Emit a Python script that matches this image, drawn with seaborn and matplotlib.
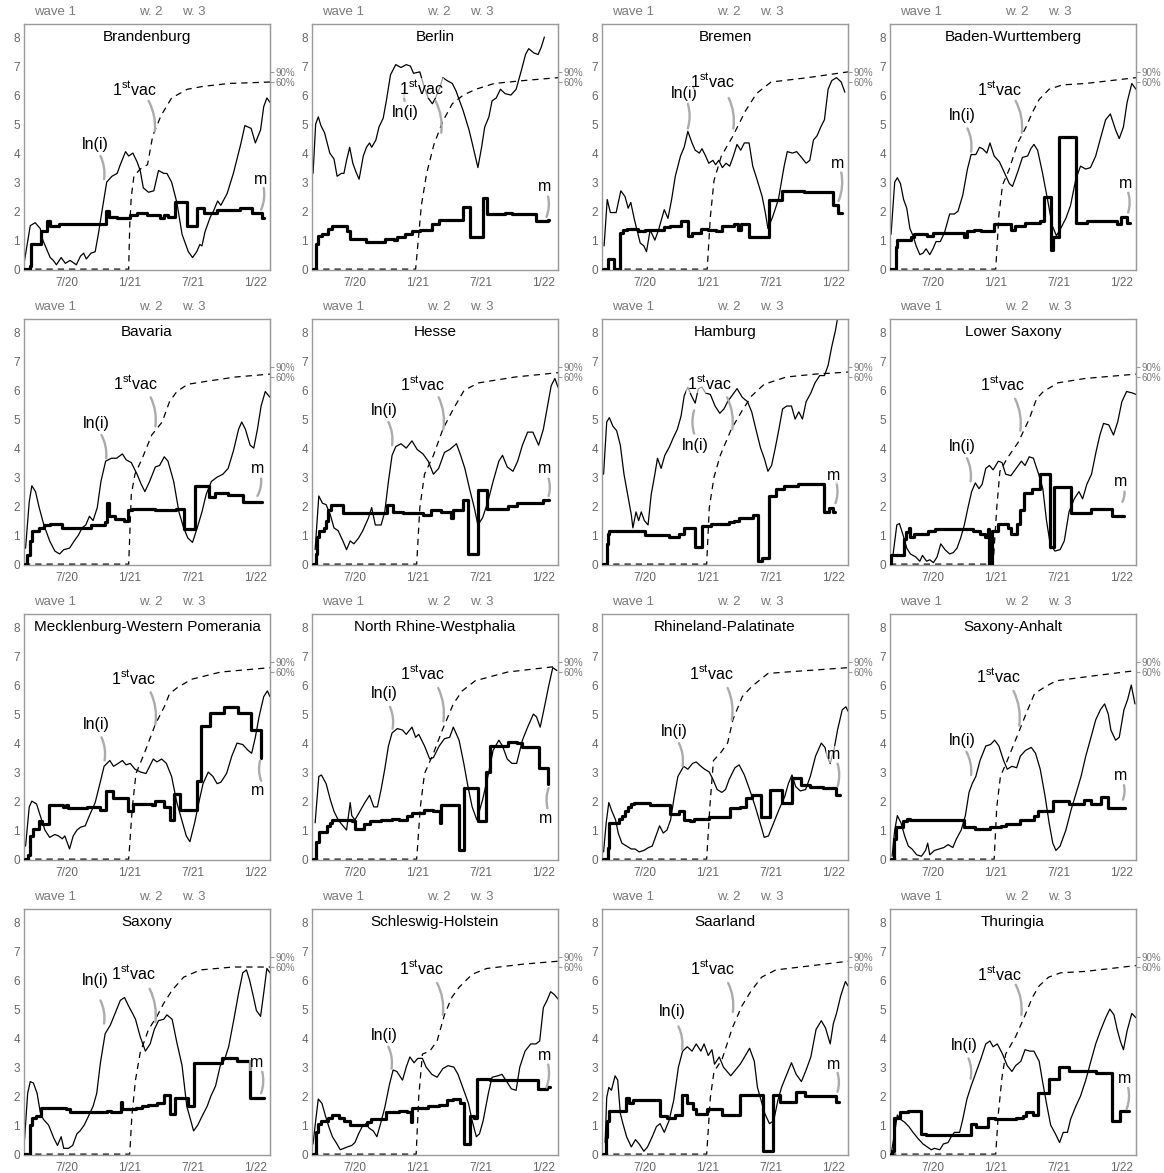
import matplotlib
matplotlib.use("Agg")
import numpy as np
import pandas as pd
import seaborn as sns
import matplotlib.pyplot as plt

sns.set_style("white")
plt.rcParams["font.family"] = ["Liberation Sans", "DejaVu Sans"]
plt.rcParams["mathtext.fontset"] = "custom"
plt.rcParams["mathtext.rm"] = "Liberation Sans"

# ---------------- data (x = months since 1 Mar 2020) ----------------
STATES = ["Brandenburg", "Berlin", "Bremen", "Baden-Wurttemberg",
          "Bavaria", "Hesse", "Hamburg", "Lower Saxony",
          "Mecklenburg-Western Pomerania", "North Rhine-Westphalia", "Rhineland-Palatinate", "Saxony-Anhalt",
          "Saxony", "Schleswig-Holstein", "Saarland", "Thuringia"]

X_TICKS = [4, 10, 16, 22]
X_TICK_LABELS = ["7/20", "1/21", "7/21", "1/22"]
WAVE_POS = [2.9, 12.0, 16.1]
WAVE_LABELS = ["wave 1", "w. 2", "w. 3"]
COVER_TICKS = [6.45, 6.8]
COVER_LABELS = ["60%", "90%"]

# ln(i): thin line
brandenburg_lni = [(-0.08,0.23),(0.5,1.5),(0.97,1.6),(1.45,1.4),(1.7,1.0),(2.4,0.4),(2.7,0.3),(3.0,0.15),(3.45,0.4),(3.85,0.2),(4.3,0.3),(4.9,0.15),(5.3,0.45),(5.6,0.55),(5.85,0.35),(6.3,0.55),(6.7,0.6),(7.0,1.2),(7.35,2.0),(7.8,3.0),(8.3,3.2),(8.8,3.3),(9.1,3.6),(9.6,4.05),(9.9,3.9),(10.3,4.0),(10.7,3.7),(11.0,3.4),(11.3,2.8),(11.8,2.65),(12.3,2.7),(12.75,3.4),(13.25,3.3),(13.55,3.3),(14.0,3.0),(14.5,2.3),(15.0,1.2),(15.6,0.6),(16.0,0.4),(16.4,0.6),(16.7,0.85),(16.9,0.8),(17.2,1.3),(17.7,1.8),(18.0,2.0),(18.4,2.35),(18.7,2.2),(19.3,2.6),(19.9,3.3),(20.6,4.3),(21.0,4.95),(21.6,4.85),(22.0,4.35),(22.5,4.8),(22.8,5.6),(23.1,5.9),(23.4,5.75)]
berlin_lni = [(0.0,3.3),(0.25,5.0),(0.5,5.25),(0.75,4.95),(1.1,4.7),(1.6,4.0),(2.0,3.8),(2.3,3.2),(2.7,3.3),(2.95,3.3),(3.2,3.75),(3.5,4.2),(3.8,3.65),(4.1,3.35),(4.4,3.1),(4.8,3.9),(5.1,4.2),(5.4,4.35),(5.6,4.2),(6.0,4.45),(6.3,4.9),(6.7,5.2),(7.0,5.8),(7.4,6.7),(7.9,7.05),(8.4,6.95),(8.9,7.05),(9.3,7.0),(9.6,6.75),(10.2,6.8),(10.6,6.3),(11.0,5.9),(11.4,5.7),(11.7,5.9),(12.1,6.25),(12.4,6.6),(12.8,6.5),(13.3,6.4),(13.65,6.15),(14.35,5.45),(14.9,4.8),(15.2,4.35),(15.75,3.5),(16.1,4.2),(16.4,4.9),(16.8,5.25),(17.1,5.8),(17.5,5.9),(17.9,6.2),(18.35,6.05),(18.9,6.0),(19.4,6.2),(19.9,6.85),(20.3,7.4),(20.6,7.6),(21.1,7.45),(21.5,7.4),(21.8,7.65),(22.1,8.0)]
bremen_lni = [(0.1,0.8),(0.4,2.4),(0.7,1.95),(1.25,1.95),(1.7,2.7),(2.1,2.5),(2.4,2.1),(2.65,2.3),(3.0,1.7),(3.55,0.9),(3.9,0.8),(4.15,0.6),(4.5,1.35),(4.95,1.0),(5.3,1.35),(5.85,2.05),(6.2,1.75),(6.55,2.4),(6.9,3.2),(7.4,3.9),(7.75,4.2),(8.1,4.75),(8.5,4.35),(8.8,4.1),(9.2,4.0),(9.45,4.15),(9.8,3.9),(10.1,3.65),(10.5,3.75),(10.75,3.6),(11.05,3.75),(11.4,3.5),(11.75,3.65),(12.1,3.55),(12.45,3.9),(12.8,4.3),(13.15,4.1),(13.5,4.35),(13.95,4.35),(14.3,3.55),(14.7,3.1),(15.2,2.5),(15.5,1.95),(15.75,1.4),(16.2,1.8),(16.75,2.4),(17.3,3.55),(17.6,4.05),(18.1,4.0),(18.5,4.05),(18.85,3.9),(19.4,3.65),(19.75,3.75),(20.1,4.45),(20.45,4.6),(20.8,4.9),(21.15,5.15),(21.5,6.2),(21.85,6.5),(22.3,6.6),(22.75,6.45),(23.1,6.1)]
baden_lni = [(0.0,1.2),(0.35,3.0),(0.6,3.15),(0.9,2.95),(1.2,2.4),(1.5,2.1),(1.8,1.4),(2.1,1.15),(2.4,0.8),(2.75,0.5),(3.05,0.55),(3.35,0.7),(3.7,0.5),(4.0,0.7),(4.3,0.95),(4.7,0.95),(5.1,1.25),(5.6,1.9),(6.05,1.9),(6.4,2.0),(6.85,2.55),(7.3,3.45),(7.65,3.95),(8.1,3.95),(8.45,4.2),(8.75,4.15),(9.15,4.0),(9.45,4.35),(9.85,3.9),(10.35,3.7),(10.8,3.35),(11.3,2.95),(11.6,2.85),(12.1,3.35),(12.55,3.85),(13.05,3.9),(13.35,4.15),(13.65,4.3),(14.0,4.1),(14.45,3.35),(14.95,2.4),(15.4,1.5),(15.8,1.15),(16.2,1.4),(16.7,1.75),(17.15,2.2),(17.65,3.1),(18.1,3.55),(18.6,3.45),(19.05,3.5),(19.55,3.9),(20.0,4.5),(20.5,5.15),(20.95,5.35),(21.45,4.8),(21.8,4.5),(22.2,4.9),(22.55,5.75),(23.0,6.4),(23.4,6.2)]
bavaria_lni = [(0.05,0.55),(0.4,2.15),(0.65,2.7),(1.0,2.5),(1.35,1.95),(1.8,1.35),(2.35,0.8),(2.85,0.45),(3.3,0.35),(3.7,0.5),(4.25,0.55),(4.7,0.8),(5.1,1.0),(5.45,1.25),(5.8,1.35),(6.15,1.65),(6.5,1.5),(6.9,1.95),(7.25,2.85),(7.7,3.55),(8.25,3.65),(8.75,3.65),(9.3,3.8),(9.65,3.6),(10.15,3.5),(10.7,3.1),(11.1,2.75),(11.45,2.5),(11.9,2.85),(12.45,3.35),(12.85,3.4),(13.3,3.7),(13.65,3.55),(14.2,2.85),(14.7,1.8),(15.15,1.25),(15.55,0.9),(16.0,0.75),(16.45,1.25),(16.9,1.8),(17.3,2.4),(17.8,2.85),(18.35,3.0),(18.9,3.1),(19.4,3.3),(19.9,3.9),(20.4,4.65),(20.7,4.9),(21.05,4.65),(21.5,4.1),(21.85,4.0),(22.2,4.65),(22.55,5.45),(22.95,5.95),(23.4,5.75)]
hesse_lni = [(0.2,0.5),(0.55,2.35),(0.9,2.1),(1.25,2.05),(1.65,1.7),(2.0,1.25),(2.4,1.15),(2.85,0.8),(3.2,0.5),(3.55,0.8),(3.9,0.7),(4.35,0.9),(4.75,1.15),(5.3,1.6),(5.6,1.95),(5.95,1.35),(6.5,1.35),(6.85,1.8),(7.2,2.85),(7.55,3.75),(7.9,4.05),(8.4,4.15),(8.9,4.0),(9.45,4.25),(9.95,3.95),(10.5,3.8),(11.0,3.55),(11.5,3.1),(12.0,3.3),(12.55,3.85),(13.05,3.95),(13.7,4.15),(14.1,3.75),(14.5,3.3),(14.95,2.6),(15.4,1.95),(15.75,1.35),(16.2,1.6),(16.7,2.15),(17.2,2.85),(17.75,3.55),(18.1,3.75),(18.55,3.35),(19.1,3.2),(19.55,3.55),(20.0,4.1),(20.5,4.55),(21.0,4.55),(21.55,4.1),(22.0,4.65),(22.4,5.45),(22.75,6.15),(23.1,6.4),(23.4,6.1)]
hamburg_lni = [(0.05,3.1),(0.35,4.9),(0.6,5.05),(0.95,4.75),(1.3,4.6),(1.65,4.1),(2.0,3.1),(2.35,2.4),(2.7,1.7),(2.85,1.25),(3.15,1.8),(3.4,1.5),(3.65,1.8),(3.95,1.5),(4.3,1.35),(4.6,2.4),(4.95,3.1),(5.2,3.65),(5.55,3.3),(5.9,3.75),(6.35,4.05),(6.7,4.35),(7.1,4.65),(7.45,5.1),(7.75,5.8),(8.1,6.1),(8.45,5.8),(8.8,5.55),(9.1,6.05),(9.45,6.1),(9.8,5.9),(10.25,5.85),(10.7,5.45),(11.15,5.2),(11.55,5.35),(11.9,5.6),(12.3,5.8),(12.8,6.05),(13.3,5.75),(13.8,5.6),(14.2,5.25),(14.6,4.65),(15.05,4.0),(15.4,3.65),(15.75,3.2),(16.1,3.4),(16.45,4.0),(16.8,4.65),(17.15,5.35),(17.55,5.45),(18.0,5.45),(18.35,5.0),(18.7,5.25),(19.05,5.0),(19.4,5.6),(19.85,5.9),(20.25,6.25),(20.7,6.5),(21.15,6.5),(21.5,6.85),(21.85,7.5),(22.2,8.05),(22.6,8.9)]
lowersax_lni = [(0.2,0.35),(0.55,1.35),(0.8,1.4),(1.15,1.0),(1.5,0.55),(1.85,0.35),(2.35,0.25),(2.75,0.1),(3.0,0.3),(3.4,0.1),(3.7,0.15),(4.05,0.05),(4.4,0.25),(4.75,0.7),(5.15,0.5),(5.6,0.35),(5.95,0.4),(6.3,0.55),(6.65,0.9),(7.0,1.35),(7.35,1.95),(7.7,2.5),(8.05,2.8),(8.4,2.6),(8.7,2.75),(9.05,3.3),(9.4,3.4),(9.75,3.25),(10.25,3.55),(10.6,3.5),(10.95,3.1),(11.45,3.05),(11.95,3.3),(12.45,3.55),(12.8,3.4),(13.2,3.7),(13.6,3.65),(14.1,3.1),(14.5,2.6),(14.85,1.5),(15.2,0.7),(15.65,0.45),(16.15,0.5),(16.55,0.8),(17.0,1.8),(17.5,2.25),(17.95,2.5),(18.3,2.25),(18.7,2.75),(19.15,3.1),(19.6,3.9),(19.95,4.45),(20.3,4.85),(20.8,4.8),(21.25,4.45),(21.65,4.9),(22.05,5.6),(22.5,5.95),(23.05,5.9),(23.4,5.85)]
mecklenburg_lni = [(0.05,0.45),(0.4,1.8),(0.65,2.0),(1.1,1.9),(1.45,1.5),(1.9,1.0),(2.35,0.75),(2.85,0.85),(3.2,0.8),(3.55,0.7),(3.8,0.8),(4.25,0.35),(4.6,0.8),(4.95,1.0),(5.3,1.1),(5.75,1.15),(6.15,1.5),(6.7,1.95),(7.15,2.6),(7.55,3.2),(8.1,3.4),(8.45,3.2),(8.9,3.3),(9.3,3.4),(9.65,3.25),(10.05,3.3),(10.5,3.1),(11.05,3.0),(11.55,2.95),(11.9,3.2),(12.25,3.45),(12.6,3.35),(13.05,3.45),(13.5,3.3),(14.0,2.85),(14.5,1.95),(15.05,1.25),(15.4,0.8),(15.75,0.6),(16.2,1.25),(16.6,1.95),(17.0,2.6),(17.5,3.0),(17.95,2.85),(18.35,2.6),(18.7,2.65),(19.25,2.95),(19.75,3.55),(20.25,4.0),(20.8,3.95),(21.3,3.75),(21.65,3.65),(22.0,4.2),(22.35,4.9),(22.8,5.6),(23.15,5.8),(23.4,5.6)]
nrw_lni = [(0.2,1.25),(0.55,2.85),(0.8,2.9),(1.25,2.6),(1.65,2.05),(2.0,1.65),(2.4,1.35),(2.85,1.15),(3.2,1.0),(3.55,1.95),(3.7,1.5),(4.0,1.35),(4.4,1.6),(4.95,1.95),(5.4,2.2),(5.8,1.8),(6.15,1.8),(6.5,2.4),(6.85,3.1),(7.2,3.9),(7.55,4.35),(8.05,4.5),(8.55,4.45),(8.9,4.3),(9.45,4.55),(9.8,4.2),(10.1,4.3),(10.65,3.9),(11.15,3.45),(11.5,3.5),(12.05,3.9),(12.55,4.15),(13.05,4.2),(13.4,4.55),(13.95,4.1),(14.4,3.3),(14.8,2.5),(15.2,1.8),(15.65,1.35),(16.2,2.05),(16.7,2.85),(17.2,3.75),(17.75,4.1),(18.1,3.9),(18.55,3.45),(19.0,3.3),(19.45,3.3),(20.0,4.1),(20.5,4.55),(21.05,5.0),(21.35,4.9),(21.7,4.55),(22.05,5.15),(22.5,5.95),(22.9,6.6),(23.3,6.5)]
rhineland_lni = [(0.05,0.25),(0.3,1.25),(0.55,1.95),(0.85,1.65),(1.2,1.35),(1.45,0.9),(1.8,0.55),(2.25,0.45),(2.7,0.35),(3.05,0.35),(3.45,0.25),(3.9,0.3),(4.35,0.4),(4.7,0.45),(5.05,0.8),(5.4,1.15),(5.75,0.9),(6.1,1.0),(6.45,1.35),(6.8,2.15),(7.15,2.85),(7.7,3.2),(8.1,3.1),(8.55,3.3),(8.9,3.35),(9.35,3.2),(9.7,3.1),(10.15,3.0),(10.5,2.75),(10.9,2.4),(11.35,2.3),(11.7,2.4),(12.05,2.75),(12.6,3.15),(13.0,3.25),(13.5,2.9),(14.0,2.4),(14.55,1.8),(15.0,1.25),(15.4,0.75),(15.8,0.8),(16.3,1.25),(16.8,1.7),(17.35,2.15),(17.7,2.6),(18.05,2.9),(18.4,2.5),(18.85,2.35),(19.35,2.4),(19.8,2.85),(20.3,3.55),(20.85,4.0),(21.2,3.85),(21.45,3.5),(21.7,3.3),(22.05,3.75),(22.4,4.45),(22.85,5.15),(23.2,5.25),(23.4,5.1)]
anhalt_lni = [(0.1,0.1),(0.35,1.0),(0.6,1.5),(0.95,1.25),(1.3,0.8),(1.65,0.45),(2.0,0.35),(2.45,0.15),(2.9,0.1),(3.3,0.3),(3.5,0.55),(3.7,0.15),(4.15,0.3),(4.6,0.35),(5.05,0.4),(5.45,0.5),(5.9,0.4),(6.25,0.7),(6.7,1.0),(7.1,1.5),(7.45,2.3),(7.75,2.6),(8.1,2.85),(8.5,3.4),(9.05,3.9),(9.5,3.95),(9.9,4.1),(10.3,3.9),(10.75,3.4),(11.1,3.1),(11.55,3.2),(12.0,3.15),(12.35,3.55),(12.85,3.75),(13.4,3.85),(13.8,3.65),(14.25,3.1),(14.7,2.2),(15.1,1.25),(15.45,0.55),(15.75,0.3),(16.15,0.45),(16.7,1.0),(17.2,1.7),(17.7,2.3),(18.15,2.85),(18.6,3.55),(19.1,4.2),(19.55,4.8),(20.0,5.15),(20.4,5.35),(20.75,5.0),(21.0,4.45),(21.45,4.1),(21.8,4.2),(22.25,5.15),(22.6,5.5),(22.95,6.0),(23.3,5.35)]
saxony_lni = [(-0.05,0.5),(0.25,2.1),(0.5,2.5),(0.8,2.45),(1.15,2.1),(1.45,1.45),(1.75,1.2),(2.25,1.0),(2.75,0.55),(3.1,0.3),(3.45,0.6),(3.7,0.2),(4.15,0.2),(4.55,0.3),(4.95,0.7),(5.25,0.8),(5.65,1.0),(6.05,1.3),(6.5,1.65),(6.85,2.1),(7.2,3.15),(7.65,4.15),(8.15,4.45),(8.6,4.85),(9.1,5.3),(9.5,5.4),(9.9,5.1),(10.2,4.9),(10.55,4.65),(11.0,4.05),(11.5,3.55),(11.95,3.8),(12.35,4.3),(12.75,4.6),(13.25,4.65),(13.55,4.8),(14.05,4.65),(14.5,3.85),(15.0,3.05),(15.45,1.65),(15.8,1.2),(16.1,0.8),(16.5,1.0),(16.9,1.3),(17.4,1.65),(17.75,2.0),(18.2,2.35),(18.65,3.05),(19.05,3.25),(19.45,3.7),(19.95,4.65),(20.4,5.55),(20.8,6.25),(21.15,6.35),(21.45,6.0),(21.8,5.45),(22.1,4.95),(22.5,4.75),(22.8,5.55),(23.1,6.4),(23.4,6.25)]
schleswig_lni = [(0.0,0.35),(0.25,1.15),(0.5,1.9),(0.85,1.75),(1.2,1.3),(1.55,0.9),(1.85,0.6),(2.2,0.4),(2.6,0.15),(2.95,0.2),(3.3,0.25),(3.7,0.3),(4.0,0.4),(4.35,0.7),(4.7,0.95),(5.05,1.05),(5.35,0.9),(5.75,0.8),(6.1,0.6),(6.45,1.05),(6.85,1.6),(7.3,2.4),(7.65,2.9),(8.0,2.85),(8.55,2.55),(8.9,3.0),(9.25,3.35),(9.65,3.15),(10.0,3.3),(10.45,3.3),(10.8,3.0),(11.35,2.75),(11.85,2.65),(12.4,2.95),(12.9,3.05),(13.45,3.0),(13.85,2.75),(14.3,2.3),(14.85,1.75),(15.2,1.15),(15.6,0.6),(15.9,0.7),(16.25,1.15),(16.75,2.1),(17.1,2.65),(17.65,2.7),(18.05,2.75),(18.5,2.5),(18.95,2.25),(19.4,2.2),(19.75,3.0),(20.25,3.55),(20.8,3.8),(21.3,3.8),(21.65,3.9),(22.0,5.05),(22.35,5.3),(22.7,5.6),(23.05,5.5),(23.4,5.35)]
saarland_lni = [(0.2,0.4),(0.35,1.95),(0.55,2.3),(0.8,2.2),(1.15,2.7),(1.4,2.55),(1.65,1.4),(1.9,1.05),(2.25,0.6),(2.7,0.25),(3.1,0.5),(3.45,0.35),(3.9,0.1),(4.25,0.25),(4.7,0.6),(5.1,0.95),(5.45,1.05),(5.85,0.75),(6.3,1.15),(6.75,1.85),(7.2,3.0),(7.6,3.55),(8.05,3.7),(8.5,3.55),(8.9,3.8),(9.35,3.55),(9.65,3.8),(10.05,3.4),(10.4,3.6),(10.65,3.1),(11.1,3.35),(11.5,3.0),(11.85,2.85),(12.2,2.7),(12.65,2.9),(13.1,3.1),(13.6,3.4),(14.0,3.65),(14.45,3.2),(14.75,2.3),(15.1,1.85),(15.45,1.4),(15.9,1.05),(16.3,1.15),(16.7,1.85),(17.05,2.3),(17.55,2.75),(18.0,3.15),(18.45,2.75),(18.95,2.5),(19.4,2.9),(19.85,3.35),(20.35,4.3),(20.85,4.6),(21.25,4.35),(21.7,3.8),(22.0,4.5),(22.3,4.85),(22.7,5.45),(23.15,5.95),(23.4,5.8)]
thuringia_lni = [(0.05,0.1),(0.35,0.75),(0.6,1.35),(0.9,1.2),(1.3,1.1),(1.7,0.95),(2.1,0.75),(2.55,0.55),(3.05,0.35),(3.45,0.25),(3.85,0.15),(4.15,0.2),(4.65,0.15),(5.0,0.35),(5.45,0.4),(5.75,0.6),(6.05,0.75),(6.55,0.75),(6.85,1.2),(7.25,1.9),(7.65,2.35),(8.1,2.8),(8.55,3.25),(9.05,3.8),(9.45,3.9),(9.75,3.7),(10.15,3.8),(10.65,3.45),(11.1,3.05),(11.55,2.85),(11.9,3.05),(12.4,3.2),(12.8,3.6),(13.25,3.55),(13.65,3.55),(14.15,3.2),(14.45,2.55),(14.9,1.65),(15.25,1.0),(15.7,0.7),(16.1,0.4),(16.45,0.75),(16.85,0.75),(17.15,1.2),(17.65,1.65),(18.1,2.0),(18.6,2.55),(19.05,3.15),(19.55,3.8),(20.0,4.25),(20.5,4.7),(20.9,5.0),(21.3,4.8),(21.6,4.3),(21.9,3.9),(22.2,3.6),(22.55,4.25),(23.0,4.85),(23.4,4.7)]

# m: thick step line, (start month, value) change points, last point closes the line
brandenburg_m = [(-0.1,0),(0.45,0.1),(0.6,0.87),(1.55,1.3),(2.1,1.65),(2.4,1.5),(3.2,1.55),(7.75,2.0),(8.0,1.8),(8.8,1.75),(10.05,1.85),(10.7,1.95),(11.65,1.85),(12.9,1.75),(13.25,1.85),(13.7,1.8),(14.35,2.3),(15.45,1.5),(16.4,2.1),(17.05,1.95),(18.35,2.05),(20.55,2.1),(21.65,1.95),(22.6,1.75),(22.8,1.75)]
berlin_m = [(-0.05,0),(0.3,0.85),(0.45,1.15),(0.9,1.2),(1.4,1.4),(1.8,1.5),(3.2,1.3),(3.55,1.05),(5.1,0.95),(6.9,1.05),(7.7,1.0),(8.0,1.1),(8.8,1.2),(9.5,1.3),(10.2,1.35),(11.4,1.55),(12.0,1.7),(14.3,2.15),(14.95,1.1),(16.2,2.45),(16.6,1.9),(18.35,1.95),(19.05,1.9),(21.3,1.65),(22.4,1.7),(22.5,1.7)]
bremen_m = [(-0.05,0),(0.45,0.35),(1.0,0),(1.6,1.25),(1.95,1.35),(2.3,1.4),(3.35,1.3),(4.05,1.35),(5.85,1.45),(6.35,1.5),(7.4,1.65),(8.1,1.15),(8.5,1.25),(9.35,1.4),(10.05,1.35),(10.75,1.3),(11.4,1.5),(12.5,1.55),(12.9,1.35),(13.2,1.55),(13.95,1.1),(15.85,2.4),(17.1,2.7),(19.2,2.65),(22.0,2.2),(22.45,1.95),(22.8,1.95)]
baden_m = [(-0.06,0),(0.45,0.75),(0.55,1.0),(1.9,1.1),(2.2,1.2),(3.4,1.15),(4.0,1.25),(7.0,1.1),(7.3,1.3),(7.9,1.35),(8.6,1.3),(9.8,1.55),(11.5,1.35),(11.8,1.5),(12.8,1.6),(14.2,1.65),(14.6,2.5),(15.3,0.65),(15.45,1.1),(16.05,4.55),(17.7,1.6),(18.75,1.65),(21.6,1.55),(22.0,1.8),(22.55,1.6),(22.85,1.6)]
bavaria_m = [(-0.05,0),(0.2,0.3),(0.5,0.8),(0.7,1.15),(1.3,1.25),(1.8,1.35),(2.4,1.4),(3.5,1.25),(6.3,1.35),(7.6,1.45),(7.8,2.1),(8.0,1.65),(8.6,1.55),(9.5,1.5),(9.8,1.85),(10.2,1.9),(12.4,1.85),(14.4,1.9),(15.2,1.2),(16.2,2.7),(17.6,2.3),(18.1,2.45),(19.4,2.4),(20.8,2.15),(22.6,2.15)]
hesse_m = [(-0.05,0),(0.25,0.35),(0.4,0.95),(0.6,1.15),(1.0,1.25),(1.25,1.5),(1.45,1.85),(1.7,2.05),(2.9,1.75),(7.1,2.05),(7.6,1.8),(8.6,1.75),(10.5,1.7),(11.3,1.85),(12.2,1.8),(13.2,1.6),(13.4,1.85),(14.3,2.2),(14.8,0.35),(15.75,2.55),(16.6,1.9),(18.6,2.0),(19.45,2.1),(22.0,2.2),(22.5,2.2)]
hamburg_m = [(0.0,0),(0.35,0.7),(0.45,1.05),(0.6,1.15),(4.0,1.0),(6.3,0.95),(7.3,1.05),(7.7,1.25),(8.8,0.6),(9.5,1.3),(10.3,1.4),(12.0,1.45),(12.5,1.5),(13.0,1.6),(14.3,1.7),(14.85,0.1),(15.2,0.2),(15.9,2.35),(16.5,2.6),(17.3,2.7),(18.6,2.75),(21.1,1.8),(21.6,1.95),(22.0,1.8),(22.2,1.8)]
lowersax_m = [(-0.1,0),(0.0,0.3),(1.2,0.85),(1.4,1.1),(1.7,1.25),(1.8,0.95),(2.2,1.05),(3.5,1.15),(4.2,1.2),(7.8,1.15),(8.5,1.05),(9.0,0.95),(9.3,1.2),(9.4,0),(9.6,1.15),(10.25,1.4),(11.15,1.25),(11.5,1.05),(12.0,1.4),(12.3,1.85),(12.7,2.45),(13.5,2.6),(14.25,3.1),(15.2,0.6),(15.6,2.65),(17.2,1.75),(19.1,1.9),(21.15,1.65),(22.3,1.65)]
mecklenburg_m = [(-0.05,0),(0.25,0.15),(0.5,0.8),(0.75,1.05),(1.3,1.3),(1.6,1.2),(2.3,1.85),(3.6,1.8),(3.9,1.85),(4.1,1.75),(5.9,1.8),(7.2,1.7),(7.7,2.35),(8.4,2.1),(9.8,1.65),(10.35,1.9),(12.1,1.85),(12.45,2.0),(13.3,1.8),(13.8,1.35),(14.25,2.25),(14.85,1.7),(16.45,2.7),(16.8,4.6),(17.65,5.05),(19.05,5.25),(20.3,5.05),(21.6,4.45),(22.5,3.5),(22.52,3.5)]
nrw_m = [(-0.05,0),(0.3,0.6),(0.55,0.95),(1.3,1.15),(1.6,1.25),(1.8,1.35),(3.7,1.3),(4.0,1.05),(4.9,1.2),(5.4,1.3),(6.5,1.35),(7.5,1.4),(8.2,1.35),(9.0,1.5),(9.5,1.6),(10.6,1.7),(11.5,1.65),(12.1,1.25),(12.2,1.85),(13.95,0.3),(14.4,2.45),(15.75,1.3),(16.5,3.0),(16.9,3.9),(18.6,4.05),(19.45,4.0),(20.0,3.85),(21.55,3.15),(22.4,2.6),(22.42,2.6)]
rhineland_m = [(-0.05,0),(0.45,0.4),(0.55,1.25),(1.5,1.4),(1.8,1.5),(2.1,1.65),(2.4,1.8),(2.7,1.9),(3.0,1.95),(4.5,1.85),(6.4,1.55),(7.3,1.65),(7.7,1.35),(8.3,1.3),(8.7,1.4),(10.1,1.45),(12.1,1.75),(13.1,1.8),(13.7,2.1),(14.2,2.2),(15.05,1.45),(15.95,2.4),(17.1,1.95),(18.05,2.8),(18.9,2.55),(19.8,2.5),(21.0,2.45),(22.25,2.2),(22.6,2.2)]
anhalt_m = [(-0.05,0),(0.25,0.7),(0.45,1.1),(1.1,1.3),(1.5,1.4),(1.8,1.35),(7.0,1.1),(8.0,1.05),(9.5,1.1),(10.5,1.15),(10.95,1.2),(12.35,1.35),(13.65,1.5),(14.05,1.65),(15.45,2.0),(17.0,1.9),(18.4,2.05),(19.1,1.9),(20.05,2.15),(20.75,1.75),(22.35,1.75)]
saxony_m = [(-0.1,0),(0.5,1.0),(0.7,1.25),(1.0,1.3),(1.5,1.6),(3.9,1.55),(4.3,1.45),(7.8,1.5),(8.2,1.45),(9.15,1.8),(9.3,1.55),(10.6,1.6),(11.2,1.65),(11.7,1.7),(12.6,1.75),(13.25,2.05),(13.85,1.4),(14.35,1.95),(15.6,1.65),(16.1,3.15),(18.8,3.3),(20.25,3.2),(21.5,1.95),(22.8,1.95)]
schleswig_m = [(-0.05,0),(0.3,0.75),(0.5,1.05),(0.8,1.15),(1.4,1.25),(1.8,1.35),(2.5,1.25),(3.0,1.15),(3.5,1.0),(5.2,1.1),(5.5,1.2),(7.0,1.45),(8.2,1.5),(9.0,1.45),(9.4,1.1),(9.5,1.6),(11.0,1.65),(12.0,1.7),(12.8,1.85),(13.4,1.9),(14.0,1.75),(14.4,0.35),(15.0,1.3),(15.35,1.25),(15.7,2.6),(16.95,2.55),(21.5,2.25),(22.35,2.3),(22.6,2.3)]
saarland_m = [(-0.05,0),(0.25,0.6),(0.4,1.15),(0.55,1.5),(2.15,1.95),(2.5,1.75),(2.85,1.85),(5.45,1.3),(6.15,1.25),(6.85,1.35),(7.55,2.05),(8.05,1.75),(8.6,1.55),(8.9,1.4),(9.9,1.55),(11.4,1.35),(13.05,2.05),(15.3,0.1),(16.2,2.05),(16.9,1.8),(18.45,2.15),(19.3,2.0),(22.25,1.8),(22.5,1.8)]
thuringia_m = [(-0.05,0),(0.1,0.1),(0.25,1.25),(0.85,1.45),(1.65,1.5),(2.9,0.7),(3.35,0.65),(7.65,1.05),(8.1,0.95),(9.25,1.25),(9.9,1.2),(11.95,1.25),(12.6,1.3),(12.9,1.45),(13.55,1.35),(14.05,2.1),(15.1,2.6),(16.05,3.0),(17.0,2.85),(19.55,2.8),(21.1,1.15),(21.9,1.5),(22.7,1.5)]

# 1st vaccination (dashed)
brandenburg_vac = [(-0.1,0),(9.9,0),(10.0,1.5),(10.15,2.5),(10.4,3.2),(11.0,3.45),(11.7,3.6),(12.2,4.6),(13.0,5.3),(14.0,5.9),(15.5,6.2),(17.0,6.3),(19.5,6.4),(23.4,6.45)]
berlin_vac = [(-0.1,0),(9.8,0),(10.35,2.2),(10.85,3.3),(11.55,4.3),(12.4,5.1),(13.3,5.7),(14.35,6.0),(15.55,6.2),(17.3,6.4),(20.1,6.5),(23.4,6.6)]
bremen_vac = [(-0.1,0),(9.95,0),(10.25,1.8),(10.6,3.05),(11.3,3.9),(12.35,4.55),(13.6,5.45),(14.65,6.05),(16.05,6.45),(19.55,6.6),(23.4,6.8)]
baden_vac = [(-0.1,0),(10.0,0),(10.3,1.85),(10.65,2.9),(11.3,3.45),(12.1,4.35),(12.9,4.9),(13.5,5.4),(14.15,5.85),(15.1,6.2),(16.35,6.35),(18.6,6.4),(23.4,6.6)]
bavaria_vac = [(-0.1,0),(9.9,0),(10.15,2.4),(10.5,3.1),(11.2,3.65),(12.1,4.45),(13.1,4.9),(13.8,5.6),(14.5,5.95),(15.55,6.2),(17.3,6.3),(20.1,6.45),(23.4,6.55)]
hesse_vac = [(-0.1,0),(9.9,0),(10.2,1.95),(10.65,3.1),(11.5,3.75),(12.4,4.65),(13.4,5.35),(14.45,6.0),(15.85,6.25),(19.3,6.45),(23.4,6.6)]
hamburg_vac = [(-0.1,0),(9.9,0),(10.15,1.95),(10.6,3.0),(11.2,3.75),(12.25,4.65),(13.3,5.3),(14.2,5.8),(15.4,6.2),(17.5,6.45),(20.25,6.55),(23.4,6.62)]
lowersax_vac = [(-0.1,0),(9.75,0),(10.1,1.95),(10.4,3.2),(11.1,3.65),(12.15,4.2),(13.2,5.0),(13.9,5.7),(14.55,5.95),(15.95,6.25),(18.55,6.4),(23.4,6.55)]
mecklenburg_vac = [(-0.1,0),(9.9,0),(10.25,1.8),(10.6,2.95),(11.4,3.65),(12.45,4.65),(13.3,5.25),(13.8,5.7),(14.5,5.9),(15.9,6.2),(18.7,6.45),(23.4,6.6)]
nrw_vac = [(-0.1,0),(9.9,0),(10.25,1.8),(10.65,2.95),(11.5,3.65),(12.35,4.45),(13.4,5.35),(14.25,5.8),(15.5,6.15),(18.6,6.45),(23.4,6.65)]
rhineland_vac = [(-0.1,0),(9.9,0),(10.2,1.8),(10.55,3.4),(11.2,3.65),(11.9,4.0),(12.4,4.8),(13.3,5.6),(14.2,5.95),(15.75,6.4),(17.5,6.45),(23.4,6.6)]
anhalt_vac = [(-0.1,0),(9.85,0),(10.1,1.8),(10.45,2.85),(11.1,3.4),(12.0,4.2),(13.0,5.1),(13.7,5.7),(14.75,5.95),(15.8,6.15),(18.95,6.3),(23.4,6.5)]
saxony_vac = [(-0.1,0),(10.0,0),(10.2,1.3),(10.55,2.55),(11.0,3.5),(11.8,4.3),(12.6,4.75),(13.25,5.2),(14.05,5.65),(15.15,6.1),(16.75,6.35),(19.9,6.45),(23.4,6.45)]
schleswig_vac = [(-0.1,0),(9.85,0),(10.1,2.0),(10.45,3.45),(11.15,3.55),(11.85,3.9),(12.55,4.8),(13.25,5.4),(13.95,5.75),(15.2,6.2),(16.6,6.4),(20.1,6.55),(23.4,6.65)]
saarland_vac = [(-0.1,0),(9.9,0),(10.25,1.95),(10.6,2.85),(11.35,3.25),(12.35,4.35),(13.25,5.1),(14.1,5.6),(15.15,6.1),(16.5,6.35),(20.0,6.5),(23.4,6.65)]
thuringia_vac = [(-0.1,0),(10.0,0),(10.25,1.4),(10.6,2.65),(10.95,3.45),(11.9,4.05),(12.7,4.7),(13.5,5.4),(14.15,5.8),(15.05,6.1),(16.2,6.25),(18.6,6.3),(23.4,6.5)]

LNI = [brandenburg_lni, berlin_lni, bremen_lni, baden_lni, bavaria_lni, hesse_lni, hamburg_lni, lowersax_lni,
       mecklenburg_lni, nrw_lni, rhineland_lni, anhalt_lni, saxony_lni, schleswig_lni, saarland_lni, thuringia_lni]
MM = [brandenburg_m, berlin_m, bremen_m, baden_m, bavaria_m, hesse_m, hamburg_m, lowersax_m,
      mecklenburg_m, nrw_m, rhineland_m, anhalt_m, saxony_m, schleswig_m, saarland_m, thuringia_m]
VAC = [brandenburg_vac, berlin_vac, bremen_vac, baden_vac, bavaria_vac, hesse_vac, hamburg_vac, lowersax_vac,
       mecklenburg_vac, nrw_vac, rhineland_vac, anhalt_vac, saxony_vac, schleswig_vac, saarland_vac, thuringia_vac]

# ---------------- label layout (text pos, pointer start, pointer end) ----------------
LAYOUT = {
    "Brandenburg": dict(l=(6.7,4.3,(7.2,3.9),(7.55,3.1)), v=(10.4,6.2,(11.8,5.8),(12.4,4.75)), m=(22.5,3.1,(22.8,2.8),(22.55,2.05))),
    "Berlin": dict(l=(8.8,5.4,(8.75,5.8),(8.75,6.2)), v=(10.3,6.25,(11.7,5.8),(12.25,4.7)), m=(22.1,2.85,(22.45,2.5),(22.3,1.8))),
    "Bremen": dict(l=(7.75,6.05,(8.1,5.7),(8.1,4.85)), v=(10.4,6.5,(12.0,5.9),(12.45,4.85)), m=(22.4,3.65,(22.75,3.35),(22.5,2.35))),
    "Baden-Wurttemberg": dict(l=(6.85,5.3,(7.3,4.85),(7.65,4.05)), v=(10.35,6.2,(11.9,5.8),(12.5,4.7)), m=(22.4,2.95,(22.65,2.65),(22.65,1.95))),
    "Bavaria": dict(l=(6.85,4.85,(7.3,4.45),(7.75,3.65)), v=(10.5,6.25,(12.0,5.75),(12.45,4.75)), m=(22.2,3.3,(22.55,2.95),(22.2,2.35))),
    "Hesse": dict(l=(6.85,5.3,(7.2,4.9),(7.55,4.1)), v=(10.45,6.2,(12.0,5.75),(12.45,4.65)), m=(22.1,3.3,(22.5,2.95),(22.5,2.35))),
    "Hamburg": dict(l=(8.8,4.1,(8.7,4.5),(8.7,5.3)), v=(10.15,6.25,(11.85,5.75),(12.35,4.65)), m=(22.0,3.05,(22.3,2.8),(22.2,2.1))),
    "Lower Saxony": dict(l=(6.85,4.05,(7.25,3.65),(7.6,2.85)), v=(10.6,6.2,(11.85,5.7),(12.35,4.6)), m=(21.95,2.85,(22.3,2.5),(22.1,2.15))),
    "Mecklenburg-Western Pomerania": dict(l=(6.85,4.65,(7.3,4.2),(7.6,3.4)), v=(10.35,6.25,(12.0,5.75),(12.45,4.65)), m=(22.2,2.35,(22.55,2.7),(22.45,3.4))),
    "North Rhine-Westphalia": dict(l=(6.85,5.7,(7.35,5.25),(7.6,4.5)), v=(10.45,6.4,(11.95,5.9),(12.45,4.75)), m=(22.25,1.4,(22.4,1.75),(22.5,2.45))),
    "Rhineland-Palatinate": dict(l=(6.8,4.4,(7.25,4.0),(7.6,3.2)), v=(10.3,6.4,(11.9,5.9),(12.3,4.8)), m=(22.05,3.6,(22.4,3.3),(22.4,2.5))),
    "Saxony-Anhalt": dict(l=(6.8,4.1,(7.2,3.7),(7.65,2.9)), v=(10.25,6.3,(11.7,5.8),(12.25,4.6)), m=(21.9,2.9,(22.25,2.55),(22.15,2.05))),
    "Saxony": dict(l=(6.7,6.0,(7.2,5.3),(7.55,4.5)), v=(10.35,6.25,(11.9,5.7),(12.45,4.55)), m=(22.15,3.15,(22.65,2.85),(22.55,2.1))),
    "Schleswig-Holstein": dict(l=(6.8,4.1,(7.2,3.7),(7.5,2.95)), v=(10.3,6.4,(11.85,5.9),(12.4,4.8)), m=(22.1,3.4,(22.45,3.1),(22.3,2.3))),
    "Saarland": dict(l=(6.65,4.9,(7.2,4.4),(7.55,3.6)), v=(10.4,6.4,(11.95,5.9),(12.4,4.9)), m=(22.05,3.1,(22.4,2.8),(22.4,2.15))),
    "Thuringia": dict(l=(7.0,3.75,(7.4,3.3),(7.6,2.6)), v=(10.3,6.2,(11.9,5.85),(12.45,4.8)), m=(22.35,2.6,(22.65,2.3),(22.5,1.55))),
}

W, H = 1164, 1173
COL_LEFT = [24, 312, 602, 890]
ROW_BOTTOM = [270, 565, 860, 1155]
AX_W, AX_H = 246, 246
SPINE = "#9a9a9a"
GREY_TXT = "#7a7a7a"
POINTER = "#ababab"


def frame(pairs, name):
    arr = np.array(pairs, dtype=float)
    return pd.DataFrame({"month": arr[:, 0], name: arr[:, 1]})


fig = plt.figure(figsize=(W / 100, H / 100), dpi=100)

for i, state in enumerate(STATES):
    r, c = divmod(i, 4)
    ax = fig.add_axes([COL_LEFT[c] / W, 1 - ROW_BOTTOM[r] / H, AX_W / W, AX_H / H])

    d_vac = frame(VAC[i], "vac")
    d_lni = frame(LNI[i], "lni")
    d_m = frame(MM[i], "m")

    sns.lineplot(data=d_vac, x="month", y="vac", ax=ax, color="black", lw=0.9,
                 linestyle=(0, (5, 4)), estimator=None, sort=False)
    sns.lineplot(data=d_lni, x="month", y="lni", ax=ax, color="black", lw=0.9,
                 estimator=None, sort=False)
    sns.lineplot(data=d_m, x="month", y="m", ax=ax, color="black", lw=2.3,
                 drawstyle="steps-post", estimator=None, sort=False, zorder=3)

    ax.set_xlim(-0.1, 23.4)
    ax.set_ylim(-0.03, 8.45)
    ax.set_xlabel("")
    ax.set_ylabel("")
    ax.set_xticks(X_TICKS)
    ax.set_xticklabels(X_TICK_LABELS)
    ax.set_xticks(np.arange(0, 24), minor=True)
    ax.set_yticks(range(9))
    ax.tick_params(axis="both", which="major", direction="in", length=4, width=0.8,
                   color=SPINE, labelcolor="#666666", labelsize=8.5, pad=3)
    ax.tick_params(axis="x", which="minor", direction="in", length=2.5, width=0.8, color=SPINE)
    ax.tick_params(axis="x", which="major", pad=5)
    for sp in ax.spines.values():
        sp.set_color(SPINE)
        sp.set_linewidth(1.0)

    # right side coverage marks
    sec = ax.secondary_yaxis("right")
    sec.set_yticks(COVER_TICKS)
    sec.set_yticklabels(COVER_LABELS)
    sec.tick_params(direction="out", length=3, width=0.8, color=SPINE,
                    labelcolor=GREY_TXT, labelsize=7, pad=1)
    sec.spines["right"].set_color(SPINE)

    # top wave labels
    for xp, lab in zip(WAVE_POS, WAVE_LABELS):
        ax.text(xp, 1.05, lab, transform=ax.get_xaxis_transform(), ha="center",
                va="center", fontsize=9.5, color=GREY_TXT, clip_on=False)

    # title
    ax.text(0.5, 8.0, state, transform=ax.get_yaxis_transform(), ha="center",
            va="center", fontsize=11, color="black", zorder=6)

    lay = LAYOUT[state]
    box = dict(boxstyle="square,pad=0.05", fc="white", ec="none", alpha=0.6)
    for key, txt in (("l", "ln(i)"), ("v", r"1$^{\mathregular{st}}$vac"), ("m", "m")):
        tx, ty, p0, p1 = lay[key]
        ax.annotate("", xy=p1, xytext=p0,
                    arrowprops=dict(arrowstyle="-", color=POINTER, lw=1.7,
                                    shrinkA=0, shrinkB=0,
                                    connectionstyle="arc3,rad=-0.15"), zorder=5)
        ax.text(tx, ty, txt, ha="center", va="center", fontsize=11.5,
                color="black", bbox=box, zorder=6)

fig.savefig("out.png", dpi=100)
